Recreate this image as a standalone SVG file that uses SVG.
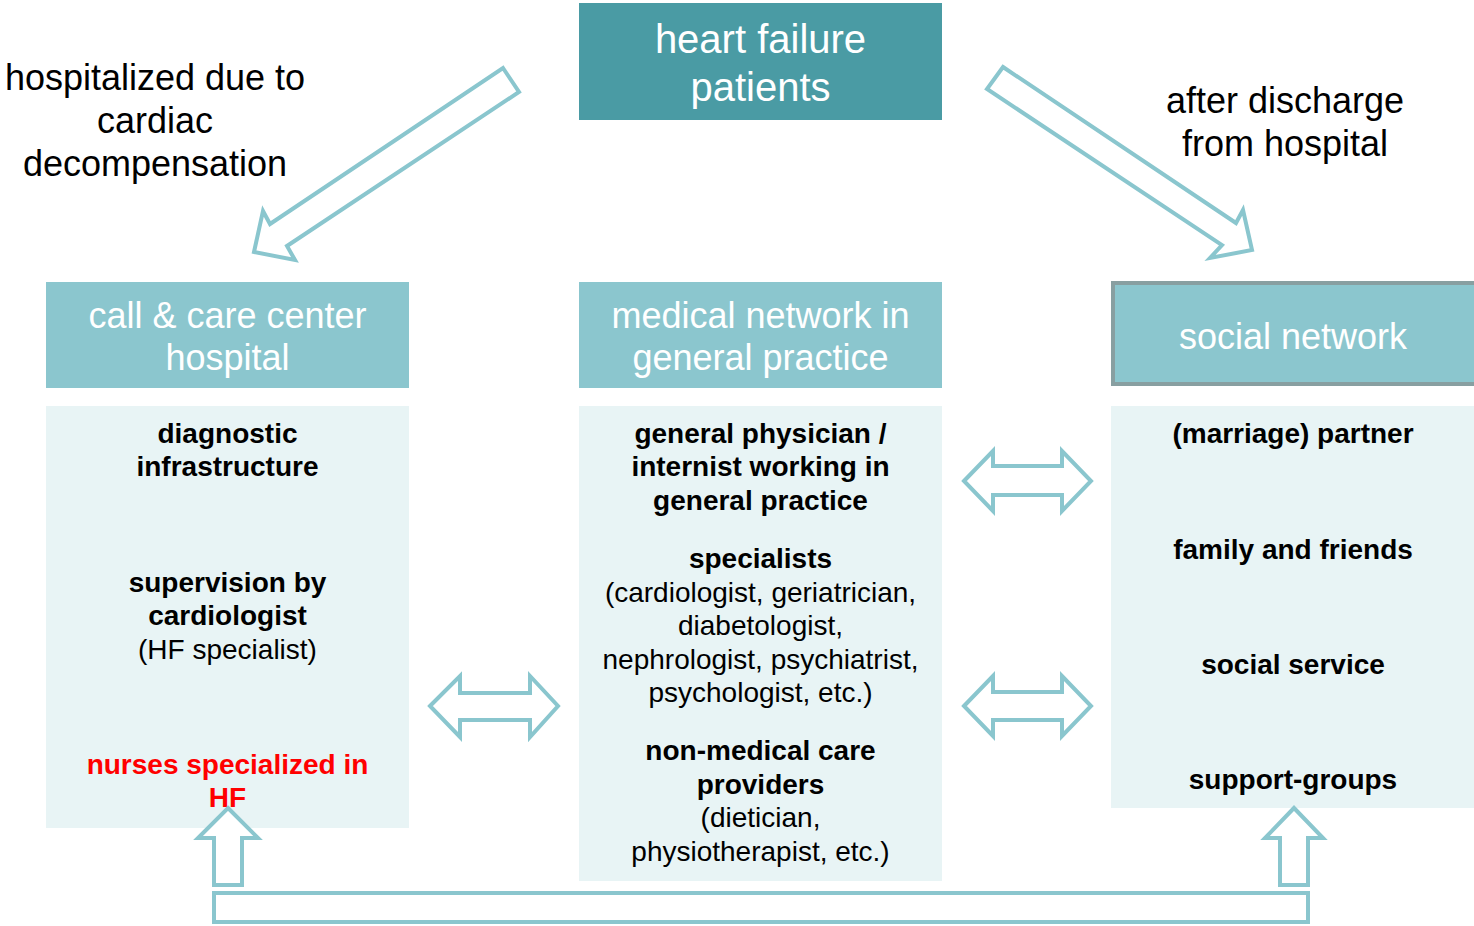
<svg xmlns="http://www.w3.org/2000/svg" width="1474" height="926" viewBox="0 0 1474 926">
<style>
text{font-family:"Liberation Sans",Arial,sans-serif;text-anchor:middle;dominant-baseline:central}
.lbl{font-size:36px;fill:#000}
.hdr{font-size:36px;fill:#fff}
.top{font-size:40px;fill:#fff}
.b{font-size:28px;font-weight:bold;fill:#000}
.r{font-size:28px;fill:#000}
.red{font-size:28px;font-weight:bold;fill:#ff0000}
.hbox{fill:#8BC6CE}
.cbox{fill:#E8F4F5}
.arr{fill:#fff;stroke:#8AC6CE;stroke-width:4;stroke-linejoin:miter}
</style>
<rect width="1474" height="926" fill="#fff"/>
<g id="labels">
<text class="lbl" x="155" y="77">hospitalized due to</text>
<text class="lbl" x="155" y="120">cardiac</text>
<text class="lbl" x="155" y="163">decompensation</text>
<text class="lbl" x="1285" y="100">after discharge</text>
<text class="lbl" x="1285" y="143">from hospital</text>
</g>
<g id="heart-failure-patients">
<rect x="579" y="3" width="363" height="117" fill="#4A9BA4"/>
<text class="top" x="760.5" y="39">heart failure</text>
<text class="top" x="760.5" y="87">patients</text>
</g>
<g id="call-care-center">
<rect class="hbox" x="46" y="282" width="363" height="106"/>
<text class="hdr" x="227.5" y="315">call &amp; care center</text>
<text class="hdr" x="227.5" y="357">hospital</text>
<rect class="cbox" x="46" y="406" width="363" height="422"/>
<text class="b" x="227.5" y="433">diagnostic</text>
<text class="b" x="227.5" y="466">infrastructure</text>
<text class="b" x="227.5" y="582">supervision by</text>
<text class="b" x="227.5" y="615">cardiologist</text>
<text class="r" x="227.5" y="649">(HF specialist)</text>
<text class="red" x="227.5" y="764">nurses specialized in</text>
<text class="red" x="227.5" y="797">HF</text>
</g>
<g id="medical-network">
<rect class="hbox" x="579" y="282" width="363" height="106"/>
<text class="hdr" x="760.5" y="315">medical network in</text>
<text class="hdr" x="760.5" y="357">general practice</text>
<rect class="cbox" x="579" y="406" width="363" height="475"/>
<text class="b" x="760.5" y="433">general physician /</text>
<text class="b" x="760.5" y="466">internist working in</text>
<text class="b" x="760.5" y="500">general practice</text>
<text class="b" x="760.5" y="558">specialists</text>
<text class="r" x="760.5" y="592">(cardiologist, geriatrician,</text>
<text class="r" x="760.5" y="625">diabetologist,</text>
<text class="r" x="760.5" y="659">nephrologist, psychiatrist,</text>
<text class="r" x="760.5" y="692">psychologist, etc.)</text>
<text class="b" x="760.5" y="750">non-medical care</text>
<text class="b" x="760.5" y="784">providers</text>
<text class="r" x="760.5" y="817">(dietician,</text>
<text class="r" x="760.5" y="851">physiotherapist, etc.)</text>
</g>
<g id="social-network">
<rect class="hbox" x="1113" y="283" width="363" height="101" stroke="#889FA1" stroke-width="4"/>
<text class="hdr" x="1293" y="336">social network</text>
<rect class="cbox" x="1111" y="406" width="363" height="402"/>
<text class="b" x="1293" y="433">(marriage) partner</text>
<text class="b" x="1293" y="549">family and friends</text>
<text class="b" x="1293" y="664">social service</text>
<text class="b" x="1293" y="779">support-groups</text>
</g>
<g id="connectors">
<polygon class="arr" points="503,68 519,92 287,246 295,260 254,252 263,211 270,224"/>
<polygon class="arr" points="1003,67 1236,223 1243,210 1252,250 1210,258 1222,245 987,89"/>
<polygon class="arr" points="430,706 460,676 460,693 530,693 530,676 558,706 530,737 530,720 460,720 460,737"/>
<polygon class="arr" points="964,481 993,451 993,466 1062,466 1062,451 1091,481 1062,511 1062,495 993,495 993,511"/>
<polygon class="arr" points="964,706 993,676 993,692 1062,692 1062,676 1091,706 1062,736 1062,720 993,720 993,736"/>
<polygon class="arr" points="228,808 258,838 242,838 242,885 214,885 214,838 198,838"/>
<polygon class="arr" points="1294,808 1323,838 1308,838 1308,885 1280,885 1280,838 1265,838"/>
<rect class="arr" x="214" y="893" width="1094" height="29"/>
</g>
</svg>
